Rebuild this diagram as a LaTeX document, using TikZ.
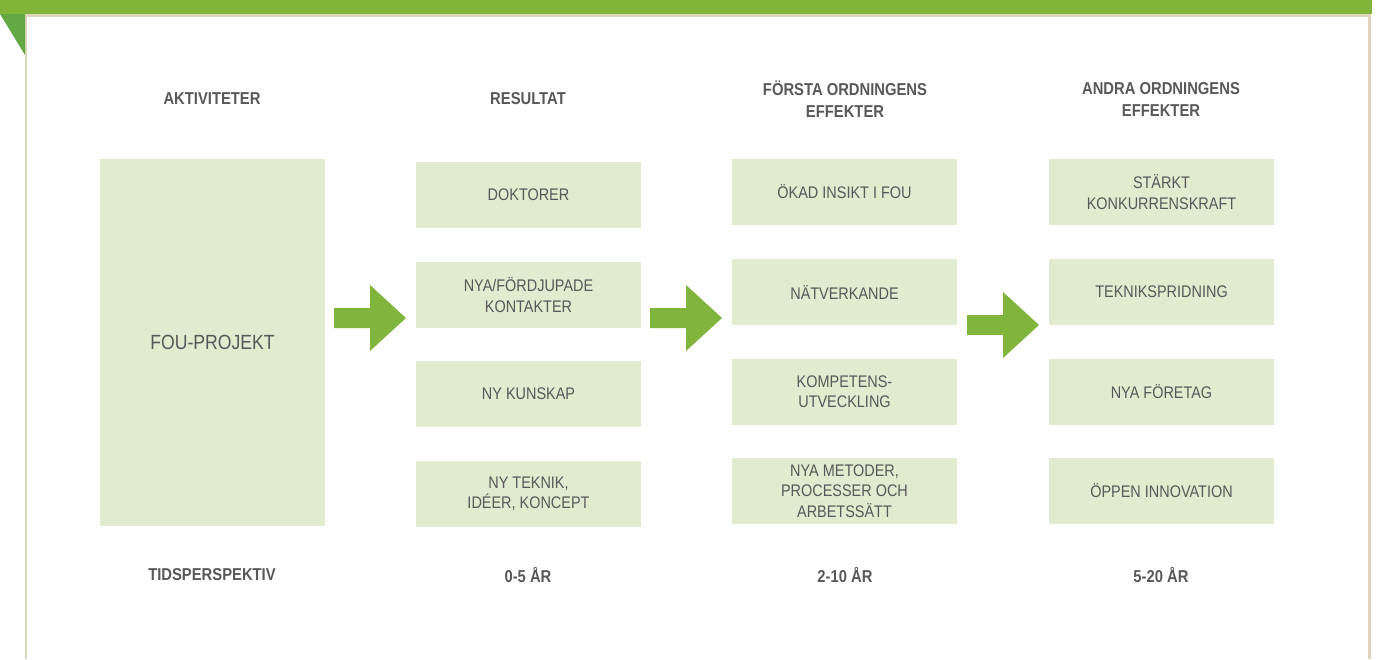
\documentclass[tikz,border=0pt]{standalone}
\usepackage{fontspec}
\setmainfont[FakeStretch=0.86]{Liberation Sans}
\definecolor{topgreen}{HTML}{82B43A}
\definecolor{darkgreen}{HTML}{62A844}
\definecolor{frameb}{HTML}{DDD6BC}
\definecolor{boxfill}{HTML}{E1EBD0}
\definecolor{txt}{HTML}{585858}
\definecolor{arrowg}{HTML}{80B43C}
\tikzset{
  every node/.style={inner sep=0pt, outer sep=0pt},
  itembox/.style={fill=boxfill, minimum width=225pt, minimum height=66pt, align=center,
    text=txt, font=\fontsize{16.8}{20.5}\selectfont},
  header/.style={align=center, text=txt, font=\bfseries\fontsize{17.2}{22}\selectfont},
  bigarrow/.style={fill=arrowg, draw=none},
}
\begin{document}
\begin{tikzpicture}[x=1pt,y=-1pt]
\useasboundingbox (0,0) rectangle (1380,659);
% frame
\fill[topgreen] (0,0) rectangle (1372,14);
\fill[frameb] (25,14) rectangle (1370,16.5);
\fill[frameb] (24.5,14) rectangle (27,659);
\fill[frameb] (1368,14) rectangle (1370.5,659);
\fill[darkgreen] (0,14) -- (25,14) -- (25,55) -- cycle;

% headers
\node[header] (h1) at (212,99) {AKTIVITETER};
\node[header] (h2) at (528,99) {RESULTAT};
\node[header] (h3) at (845,99) {FÖRSTA ORDNINGENS\\EFFEKTER};
\node[header] (h4) at (1161,99) {ANDRA ORDNINGENS\\EFFEKTER};

% activity
\node[itembox, minimum height=367pt, font=\fontsize{20.5}{24}\selectfont] (fou) at (212.5,342.5) {FOU-PROJEKT};

% column 2
\node[itembox] (r1) at (528.5,195) {DOKTORER};
\node[itembox] (r2) at (528.5,295) {NYA/FÖRDJUPADE\\KONTAKTER};
\node[itembox] (r3) at (528.5,394) {NY KUNSKAP};
\node[itembox] (r4) at (528.5,494) {NY TEKNIK,\\IDÉER, KONCEPT};

% column 3
\node[itembox] (f1) at (844.5,192) {ÖKAD INSIKT I FOU};
\node[itembox] (f2) at (844.5,292) {NÄTVERKANDE};
\node[itembox] (f3) at (844.5,391.5) {KOMPETENS-\\UTVECKLING};
\node[itembox] (f4) at (844.5,491) {NYA METODER,\\PROCESSER OCH\\ARBETSSÄTT};

% column 4
\node[itembox] (a1) at (1161.5,192) {STÄRKT\\KONKURRENSKRAFT};
\node[itembox] (a2) at (1161.5,292) {TEKNIKSPRIDNING};
\node[itembox] (a3) at (1161.5,391.5) {NYA FÖRETAG};
\node[itembox] (a4) at (1161.5,491) {ÖPPEN INNOVATION};

% arrows
\fill[bigarrow] (334,308) -- (370,308) -- (370,285) -- (406,318) -- (370,351) -- (370,328) -- (334,328) -- cycle;
\fill[bigarrow] (650,308) -- (686,308) -- (686,285) -- (722,318) -- (686,351) -- (686,328) -- (650,328) -- cycle;
\fill[bigarrow] (967,315) -- (1003,315) -- (1003,292) -- (1039,325) -- (1003,358) -- (1003,335) -- (967,335) -- cycle;

% bottom
\node[header] (t1) at (212,575) {TIDSPERSPEKTIV};
\node[header] (t2) at (528,575) {0-5 ÅR};
\node[header] (t3) at (845,575) {2-10 ÅR};
\node[header] (t4) at (1161,575) {5-20 ÅR};
\end{tikzpicture}
\end{document}
